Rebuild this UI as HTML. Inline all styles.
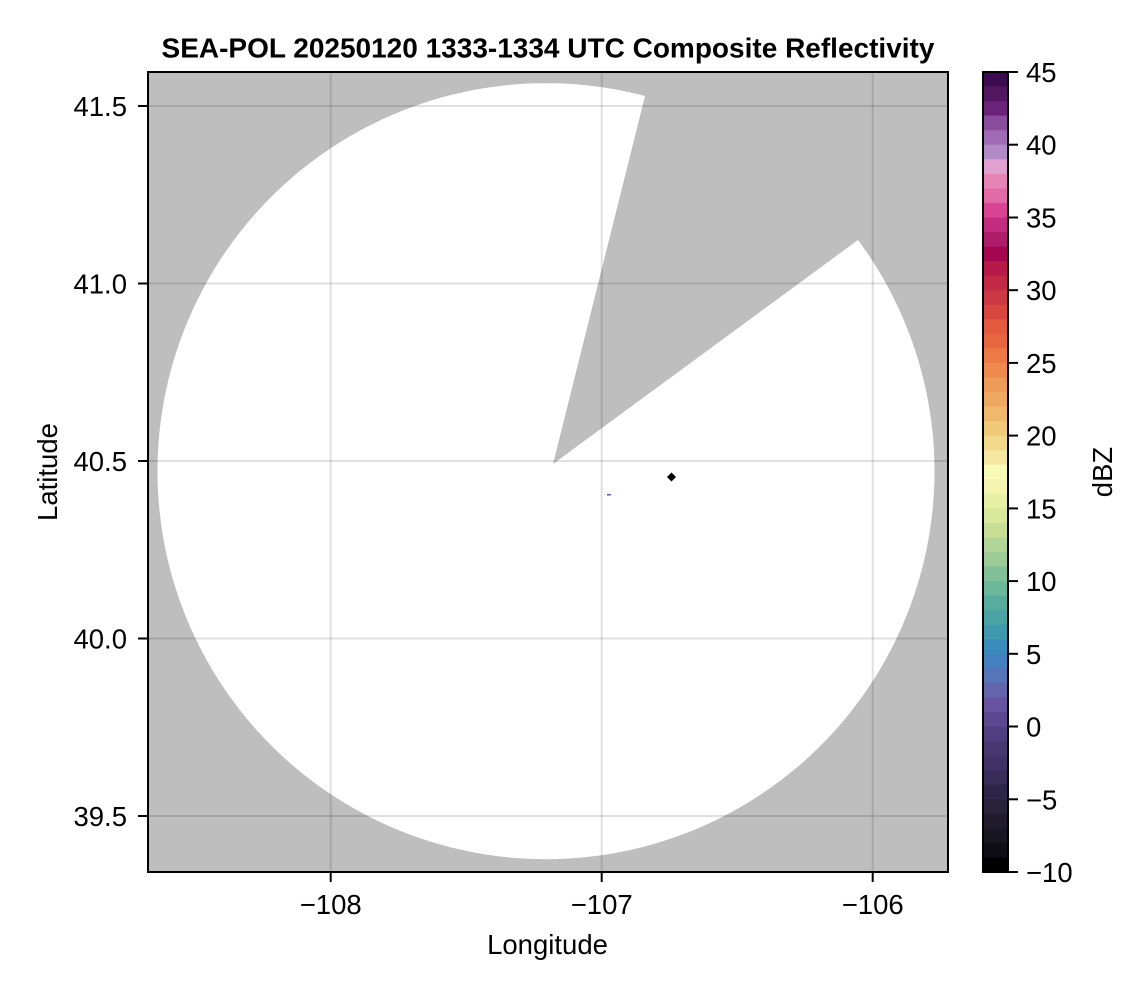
<!DOCTYPE html>
<html>
<head>
<meta charset="utf-8">
<style>
html,body{margin:0;padding:0;background:#fff;}
svg{display:block;}
text{font-family:"Liberation Sans",Arial,sans-serif;fill:#000;}
</style>
</head>
<body>
<svg width="1146" height="990" viewBox="0 0 1146 990" xmlns="http://www.w3.org/2000/svg">
<defs>
<clipPath id="pa"><rect x="148" y="72" width="800" height="800"/></clipPath>
</defs>
<!-- plot background -->
<rect x="148" y="72" width="800" height="800" fill="#bebebe"/>
<g clip-path="url(#pa)">
<path d="M 553 464 L 858 240 A 388.5 388 0 1 1 645 96 Z" fill="#ffffff"/>
<!-- grid -->
<g stroke="#000" stroke-opacity="0.12" stroke-width="2">
<line x1="330.7" y1="72" x2="330.7" y2="872"/>
<line x1="601.7" y1="72" x2="601.7" y2="872"/>
<line x1="872.7" y1="72" x2="872.7" y2="872"/>
<line x1="148" y1="106" x2="948" y2="106"/>
<line x1="148" y1="283.5" x2="948" y2="283.5"/>
<line x1="148" y1="461" x2="948" y2="461"/>
<line x1="148" y1="638.5" x2="948" y2="638.5"/>
<line x1="148" y1="816" x2="948" y2="816"/>
</g>
<!-- markers -->
<rect x="607" y="494" width="4" height="1.5" fill="#5a5ab0"/>
<polygon points="671.5,472.5 676,477 671.5,481.5 667,477" fill="#000"/>
</g>
<!-- spines -->
<rect x="148" y="72" width="800" height="800" fill="none" stroke="#000" stroke-width="2"/>
<!-- ticks -->
<g stroke="#000" stroke-width="2">
<line x1="330.7" y1="872" x2="330.7" y2="882"/>
<line x1="601.7" y1="872" x2="601.7" y2="882"/>
<line x1="872.7" y1="872" x2="872.7" y2="882"/>
<line x1="138" y1="106" x2="148" y2="106"/>
<line x1="138" y1="283.5" x2="148" y2="283.5"/>
<line x1="138" y1="461" x2="148" y2="461"/>
<line x1="138" y1="638.5" x2="148" y2="638.5"/>
<line x1="138" y1="816" x2="148" y2="816"/>
</g>
<g font-size="27.5">
<text x="330.7" y="914" text-anchor="middle">−108</text>
<text x="601.7" y="914" text-anchor="middle">−107</text>
<text x="872.7" y="914" text-anchor="middle">−106</text>
<text x="127" y="116" text-anchor="end">41.5</text>
<text x="127" y="293.5" text-anchor="end">41.0</text>
<text x="127" y="471" text-anchor="end">40.5</text>
<text x="127" y="648.5" text-anchor="end">40.0</text>
<text x="127" y="826" text-anchor="end">39.5</text>
<text x="547.5" y="954" text-anchor="middle">Longitude</text>
<text transform="translate(57,472) rotate(-90)" text-anchor="middle">Latitude</text>
</g>
<text x="548" y="57.5" text-anchor="middle" font-size="28" font-weight="bold">SEA-POL 20250120 1333-1334 UTC Composite Reflectivity</text>

<!-- colorbar -->
<g id="cb"></g>
<g>
<rect x="983" y="72.0" width="25" height="15.1" fill="#3d0b50"/>
<rect x="983" y="86.5" width="25" height="15.1" fill="#531660"/>
<rect x="983" y="101.1" width="25" height="15.1" fill="#6a2378"/>
<rect x="983" y="115.6" width="25" height="15.1" fill="#8a4c9c"/>
<rect x="983" y="130.2" width="25" height="15.1" fill="#9f6bb4"/>
<rect x="983" y="144.7" width="25" height="15.1" fill="#b189c4"/>
<rect x="983" y="159.3" width="25" height="15.1" fill="#e0a0d0"/>
<rect x="983" y="173.8" width="25" height="15.1" fill="#e585b5"/>
<rect x="983" y="188.4" width="25" height="15.1" fill="#e36aa8"/>
<rect x="983" y="202.9" width="25" height="15.1" fill="#d84394"/>
<rect x="983" y="217.5" width="25" height="15.1" fill="#c42d7f"/>
<rect x="983" y="232.0" width="25" height="15.1" fill="#ae1d69"/>
<rect x="983" y="246.5" width="25" height="15.1" fill="#a4074f"/>
<rect x="983" y="261.1" width="25" height="15.1" fill="#b71a4a"/>
<rect x="983" y="275.6" width="25" height="15.1" fill="#c32846"/>
<rect x="983" y="290.2" width="25" height="15.1" fill="#cc3843"/>
<rect x="983" y="304.7" width="25" height="15.1" fill="#d8463f"/>
<rect x="983" y="319.3" width="25" height="15.1" fill="#e35a3e"/>
<rect x="983" y="333.8" width="25" height="15.1" fill="#e8663f"/>
<rect x="983" y="348.4" width="25" height="15.1" fill="#ec7a46"/>
<rect x="983" y="362.9" width="25" height="15.1" fill="#ee8a4e"/>
<rect x="983" y="377.5" width="25" height="15.1" fill="#ee9a58"/>
<rect x="983" y="392.0" width="25" height="15.1" fill="#eea862"/>
<rect x="983" y="406.5" width="25" height="15.1" fill="#f0b86c"/>
<rect x="983" y="421.1" width="25" height="15.1" fill="#f2c879"/>
<rect x="983" y="435.6" width="25" height="15.1" fill="#f2d88a"/>
<rect x="983" y="450.2" width="25" height="15.1" fill="#f5e7a0"/>
<rect x="983" y="464.7" width="25" height="15.1" fill="#fafab8"/>
<rect x="983" y="479.3" width="25" height="15.1" fill="#f4f4b0"/>
<rect x="983" y="493.8" width="25" height="15.1" fill="#e6f0a4"/>
<rect x="983" y="508.4" width="25" height="15.1" fill="#dae89c"/>
<rect x="983" y="522.9" width="25" height="15.1" fill="#c8de94"/>
<rect x="983" y="537.5" width="25" height="15.1" fill="#b2d496"/>
<rect x="983" y="552.0" width="25" height="15.1" fill="#9ecc98"/>
<rect x="983" y="566.5" width="25" height="15.1" fill="#82c09a"/>
<rect x="983" y="581.1" width="25" height="15.1" fill="#6cb89c"/>
<rect x="983" y="595.6" width="25" height="15.1" fill="#58ac9e"/>
<rect x="983" y="610.2" width="25" height="15.1" fill="#4aa4a4"/>
<rect x="983" y="624.7" width="25" height="15.1" fill="#3e98ae"/>
<rect x="983" y="639.3" width="25" height="15.1" fill="#3a8cbc"/>
<rect x="983" y="653.8" width="25" height="15.1" fill="#4480c0"/>
<rect x="983" y="668.4" width="25" height="15.1" fill="#5874b8"/>
<rect x="983" y="682.9" width="25" height="15.1" fill="#6464ac"/>
<rect x="983" y="697.5" width="25" height="15.1" fill="#6654a0"/>
<rect x="983" y="712.0" width="25" height="15.1" fill="#5c4890"/>
<rect x="983" y="726.5" width="25" height="15.1" fill="#503f80"/>
<rect x="983" y="741.1" width="25" height="15.1" fill="#483872"/>
<rect x="983" y="755.6" width="25" height="15.1" fill="#403266"/>
<rect x="983" y="770.2" width="25" height="15.1" fill="#382c58"/>
<rect x="983" y="784.7" width="25" height="15.1" fill="#2e2648"/>
<rect x="983" y="799.3" width="25" height="15.1" fill="#28223a"/>
<rect x="983" y="813.8" width="25" height="15.1" fill="#201c2e"/>
<rect x="983" y="828.4" width="25" height="15.1" fill="#181620"/>
<rect x="983" y="842.9" width="25" height="15.1" fill="#0f0e14"/>
<rect x="983" y="857.5" width="25" height="14.5" fill="#000000"/>
</g>
<rect x="983" y="72" width="25" height="800" fill="none" stroke="#000" stroke-width="2"/>
<g stroke="#000" stroke-width="2">
<line x1="1008" y1="72" x2="1018" y2="72"/>
<line x1="1008" y1="144.7" x2="1018" y2="144.7"/>
<line x1="1008" y1="217.5" x2="1018" y2="217.5"/>
<line x1="1008" y1="290.2" x2="1018" y2="290.2"/>
<line x1="1008" y1="362.9" x2="1018" y2="362.9"/>
<line x1="1008" y1="435.6" x2="1018" y2="435.6"/>
<line x1="1008" y1="508.4" x2="1018" y2="508.4"/>
<line x1="1008" y1="581.1" x2="1018" y2="581.1"/>
<line x1="1008" y1="653.8" x2="1018" y2="653.8"/>
<line x1="1008" y1="726.5" x2="1018" y2="726.5"/>
<line x1="1008" y1="799.3" x2="1018" y2="799.3"/>
<line x1="1008" y1="872" x2="1018" y2="872"/>
</g>
<g font-size="27.5">
<text x="1026" y="82">45</text>
<text x="1026" y="154.7">40</text>
<text x="1026" y="227.5">35</text>
<text x="1026" y="300.2">30</text>
<text x="1026" y="372.9">25</text>
<text x="1026" y="445.6">20</text>
<text x="1026" y="518.4">15</text>
<text x="1026" y="591.1">10</text>
<text x="1026" y="663.8">5</text>
<text x="1026" y="736.5">0</text>
<text x="1026" y="809.3">−5</text>
<text x="1026" y="882">−10</text>
<text transform="translate(1112,472) rotate(-90)" text-anchor="middle">dBZ</text>
</g>
</svg>
</body>
</html>
